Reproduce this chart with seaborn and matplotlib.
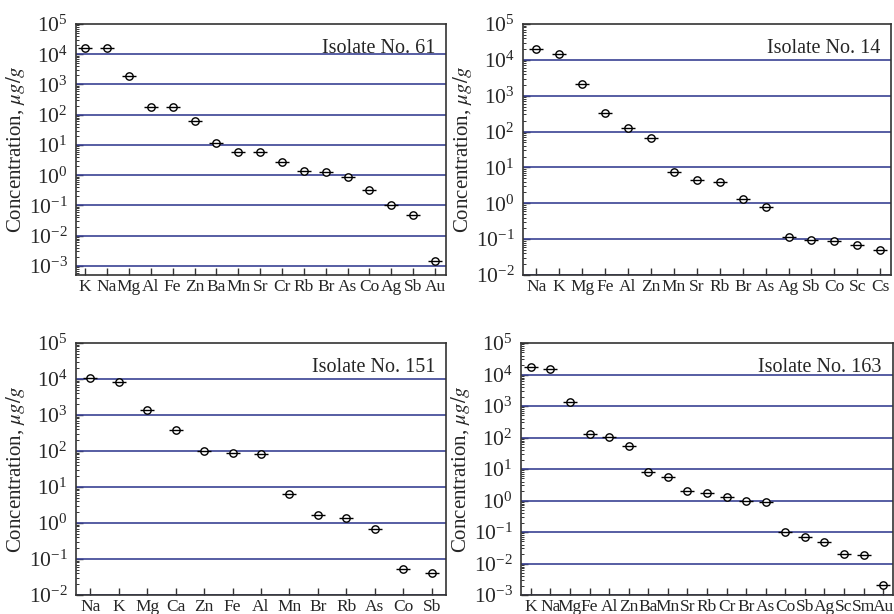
import numpy as np
import matplotlib
matplotlib.use("Agg")
import matplotlib.pyplot as plt
import seaborn as sns
from matplotlib.ticker import LogLocator, NullFormatter

# ---- data ----
el_61 = ["K", "Na", "Mg", "Al", "Fe", "Zn", "Ba", "Mn", "Sr", "Cr", "Rb", "Br", "As", "Co", "Ag", "Sb", "Au"]
val_61 = [15700, 16000, 1900, 185, 185, 60, 11.9, 6.0, 6.0, 2.75, 1.41, 1.24, 0.89, 0.33, 0.10, 0.048, 0.00145]

el_14 = ["Na", "K", "Mg", "Fe", "Al", "Zn", "Mn", "Sr", "Rb", "Br", "As", "Ag", "Sb", "Co", "Sc", "Cs"]
val_14 = [19700, 14900, 2090, 331, 129, 66, 7.4, 4.5, 3.8, 1.35, 0.79, 0.117, 0.092, 0.09, 0.068, 0.05]

el_151 = ["Na", "K", "Mg", "Ca", "Zn", "Fe", "Al", "Mn", "Br", "Rb", "As", "Co", "Sb"]
val_151 = [10900, 8300, 1350, 375, 102, 86, 83, 6.4, 1.63, 1.35, 0.68, 0.053, 0.042]

el_163 = ["K", "Na", "Mg", "Fe", "Al", "Zn", "Ba", "Mn", "Sr", "Rb", "Cr", "Br", "As", "Co", "Sb", "Ag", "Sc", "Sm", "Au"]
val_163 = [17100, 14700, 1340, 131, 105, 52, 7.9, 5.6, 1.95, 1.7, 1.28, 0.98, 0.87, 0.098, 0.071, 0.048, 0.02, 0.0187, 0.0021]

titles = ["Isolate No. 61", "Isolate No. 14", "Isolate No. 151", "Isolate No. 163"]

sns.set_theme(style="white")
plt.rcParams["font.family"] = ["Liberation Serif", "DejaVu Serif"]
plt.rcParams["mathtext.fontset"] = "stix"

W, H = 894, 614
fig = plt.figure(figsize=(W / 100, H / 100), dpi=100)

# panel boxes in pixels: left, top, right, bottom
boxes = [(76, 24, 446, 275), (523, 24, 891, 275), (76, 343, 446, 595), (521, 343, 893, 595)]
ylims = [(10 ** -3.3, 1e5), (1e-2, 1e5), (1e-2, 1e5), (1e-3, 1e5)]
xpads = [(-0.42, 0.5), (-0.58, 0.47), (-0.5, 0.5), (-0.5, 0.5)]
datasets = [(el_61, val_61), (el_14, val_14), (el_151, val_151), (el_163, val_163)]

grid_col = "#3a4294"

for (l, t, r, b), (els, vals), ylim, (p0, p1), title in zip(boxes, datasets, ylims, xpads, titles):
    ax = fig.add_axes([l / W, 1 - b / H, (r - l) / W, (b - t) / H])
    ax.set_yscale("log")
    n = len(els)
    x = np.arange(n)
    # gridlines at decades
    lo = int(np.ceil(np.log10(ylim[0])))
    for e in range(lo, 5):
        ax.axhline(10.0 ** e, color=grid_col, lw=1.2, zorder=1)
    sns.scatterplot(x=x, y=vals, ax=ax, marker="o", s=28, facecolor="white",
                    edgecolor="black", linewidth=1.0, zorder=3, legend=False)
    ax.plot(x, vals, linestyle="none", marker="_", markersize=10, markeredgewidth=1.0,
            color="black", zorder=4)
    ax.set_xlim(p0, n - 1 + p1)
    ax.set_ylim(*ylim)
    ax.set_xticks(x)
    ax.set_xticklabels(els, fontsize=12.5)
    ax.yaxis.set_major_locator(LogLocator(base=10, numticks=20))
    ax.yaxis.set_minor_locator(LogLocator(base=10, subs=np.arange(2, 10), numticks=200))
    ax.yaxis.set_minor_formatter(NullFormatter())
    ax.tick_params(axis="y", which="major", direction="in", length=5, width=1.0,
                   labelsize=15.5, pad=6, left=True, color="#333333")
    ax.tick_params(axis="y", which="minor", direction="in", length=2.5, width=0.7,
                   left=True, color="#333333")
    ax.tick_params(axis="x", which="major", direction="in", length=5, width=1.0,
                   labelsize=12.5, pad=3, bottom=True, color="#333333")
    ax.tick_params(axis="x", which="minor", bottom=False)
    ax.set_ylabel(r"Concentration, $\mu g/g$", fontsize=15, labelpad=1)
    for sp in ax.spines.values():
        sp.set_color("#333333")
        sp.set_linewidth(1.2)
        sp.set_visible(True)
    ax.text(0.97, 0.94, title, transform=ax.transAxes, ha="right", va="top", fontsize=14.5)

fig.savefig("out.png", dpi=100)
